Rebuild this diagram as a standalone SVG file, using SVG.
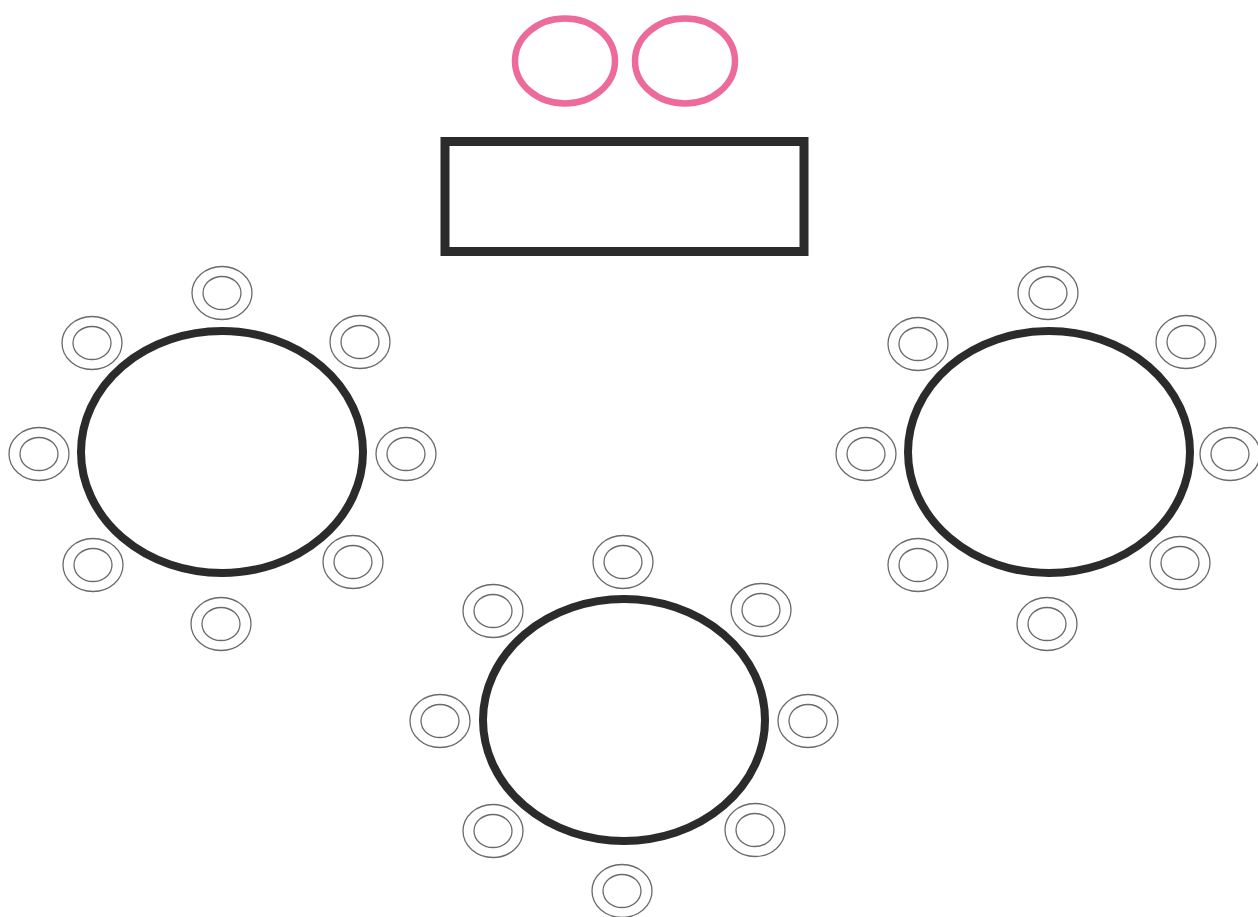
<svg xmlns="http://www.w3.org/2000/svg" width="1258" height="917" viewBox="0 0 1258 917">
<defs>
<style>
.pink{fill:none;stroke:#ec6b9b;stroke-width:6.5}
.head{fill:#fff;stroke:#2b2b2b;stroke-width:9}
.table{fill:#fff;stroke:#2b2b2b;stroke-width:8}
.co{fill:#fff;stroke:#6a6a6a;stroke-width:1.3}
.ci{fill:none;stroke:#6a6a6a;stroke-width:1.3}
</style>
<g id="chair">
<ellipse class="co" cx="0" cy="0" rx="30" ry="26.5"/>
<ellipse class="ci" cx="0" cy="0" rx="19" ry="16.5"/>
</g>
</defs>
<rect width="1258" height="917" fill="#fff"/>
<g id="pink-left"><ellipse class="pink" cx="565" cy="61" rx="50" ry="42.5"/></g>
<g id="pink-right"><ellipse class="pink" cx="685" cy="61" rx="50" ry="42.5"/></g>
<g id="head-table"><rect class="head" x="445" y="141.5" width="359" height="110"/></g>
<g id="table-left">
<ellipse class="table" cx="222" cy="452" rx="141" ry="121"/>
<use href="#chair" x="222" y="293"/>
<use href="#chair" x="92" y="343"/>
<use href="#chair" x="360" y="342"/>
<use href="#chair" x="39" y="454"/>
<use href="#chair" x="406" y="454"/>
<use href="#chair" x="93" y="565"/>
<use href="#chair" x="353" y="562"/>
<use href="#chair" x="221" y="624"/>
</g>
<g id="table-right">
<ellipse class="table" cx="1049" cy="452" rx="141" ry="121"/>
<use href="#chair" x="1048" y="293"/>
<use href="#chair" x="918" y="344"/>
<use href="#chair" x="1186" y="342"/>
<use href="#chair" x="866" y="454"/>
<use href="#chair" x="1230" y="454"/>
<use href="#chair" x="918" y="565"/>
<use href="#chair" x="1180" y="563"/>
<use href="#chair" x="1047" y="624"/>
</g>
<g id="table-bottom">
<ellipse class="table" cx="624" cy="720" rx="141" ry="121"/>
<use href="#chair" x="623" y="562"/>
<use href="#chair" x="493" y="611"/>
<use href="#chair" x="761" y="610"/>
<use href="#chair" x="440" y="721"/>
<use href="#chair" x="808" y="721"/>
<use href="#chair" x="493" y="831"/>
<use href="#chair" x="755" y="830"/>
<use href="#chair" x="622" y="891"/>
</g>
<g id="connectors"></g>
</svg>
